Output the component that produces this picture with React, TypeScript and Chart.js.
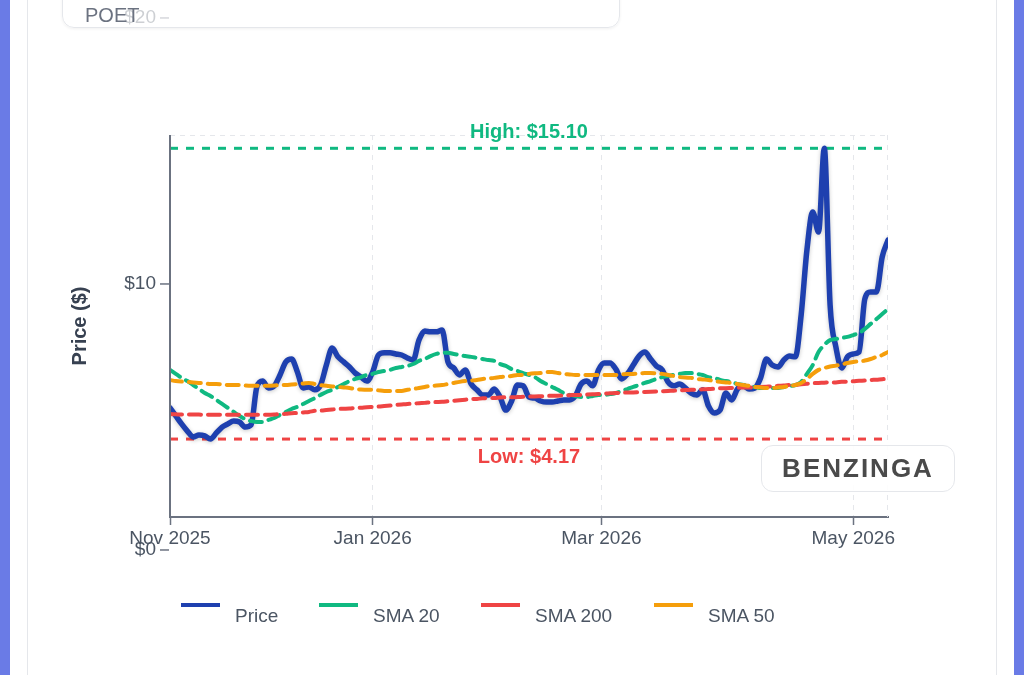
import { useEffect, useRef } from 'react';
import { Chart, registerables } from 'chart.js';

Chart.register(...registerables);

const FONT = "'Liberation Sans', Arial, Helvetica, sans-serif";

// Month ticks on the session axis (session index where each month starts)
const monthTickPositions = [0, 35, 74.5, 118];
const monthTickLabels = ['Nov 2025', 'Jan 2026', 'Mar 2026', 'May 2026'];

// Price axis ticks
const priceTickValues = [0, 10, 20];

// Daily closing price, one value per trading session
const price = [
  5.34, 5.04, 4.74, 4.47, 4.25, 4.32, 4.29, 4.17, 4.40, 4.62,
  4.74, 4.85, 4.81, 4.62, 4.70, 6.13, 6.35, 6.09, 6.17, 6.58,
  7.07, 7.18, 6.69, 6.09, 6.13, 6.02, 6.20, 6.95, 7.59, 7.26,
  7.07, 6.88, 6.65, 6.50, 6.35, 6.69, 7.33, 7.41, 7.41, 7.37,
  7.33, 7.22, 7.14, 7.89, 8.23, 8.20, 8.20, 8.27, 7.07, 6.84,
  6.58, 6.77, 6.24, 6.02, 5.83, 5.83, 6.05, 5.75, 5.26, 5.60,
  6.20, 6.17, 5.75, 5.71, 5.60, 5.56, 5.56, 5.60, 5.64, 5.64,
  5.79, 6.24, 6.35, 6.17, 6.77, 7.03, 7.03, 6.80, 6.43, 6.62,
  6.95, 7.29, 7.44, 7.18, 6.92, 6.77, 6.32, 6.17, 6.24, 6.09,
  5.90, 5.83, 6.02, 5.41, 5.15, 5.26, 5.90, 5.64, 6.05, 6.17,
  6.05, 6.09, 6.47, 7.18, 6.95, 6.88, 7.14, 7.29, 7.26, 8.83,
  11.28, 12.71, 11.95, 15.10, 9.21, 7.63, 6.84, 7.26, 7.37, 7.44,
  9.44, 9.70, 9.70, 11.02, 11.65,
];

const sma20 = [
  6.77, 6.62, 6.47, 6.35, 6.20, 6.05, 5.90, 5.79, 5.64, 5.49,
  5.34, 5.19, 5.04, 4.92, 4.85, 4.81, 4.81, 4.89, 4.96, 5.08,
  5.19, 5.30, 5.38, 5.49, 5.60, 5.71, 5.83, 5.94, 6.02, 6.13,
  6.24, 6.35, 6.43, 6.50, 6.58, 6.62, 6.69, 6.73, 6.77, 6.84,
  6.88, 6.92, 6.99, 7.11, 7.18, 7.29, 7.37, 7.41, 7.41, 7.37,
  7.33, 7.29, 7.26, 7.22, 7.18, 7.14, 7.11, 6.99, 6.92, 6.80,
  6.73, 6.65, 6.58, 6.50, 6.35, 6.24, 6.13, 6.02, 5.90, 5.83,
  5.79, 5.75, 5.75, 5.79, 5.83, 5.83, 5.86, 5.90, 5.98, 6.05,
  6.13, 6.20, 6.28, 6.35, 6.43, 6.50, 6.54, 6.58, 6.62, 6.65,
  6.65, 6.62, 6.58, 6.50, 6.47, 6.39, 6.35, 6.32, 6.24, 6.20,
  6.13, 6.13, 6.09, 6.09, 6.09, 6.09, 6.13, 6.17, 6.20, 6.32,
  6.62, 6.95, 7.44, 7.71, 7.89, 7.93, 7.97, 8.01, 8.08, 8.16,
  8.31, 8.50, 8.68, 8.87, 9.06,
];

const sma200 = [
  5.11, 5.10, 5.09, 5.09, 5.09, 5.09, 5.08, 5.08, 5.08, 5.08,
  5.08, 5.08, 5.08, 5.08, 5.08, 5.08, 5.08, 5.08, 5.09, 5.11,
  5.12, 5.14, 5.15, 5.17, 5.19, 5.23, 5.24, 5.26, 5.28, 5.30,
  5.31, 5.32, 5.34, 5.35, 5.37, 5.38, 5.39, 5.41, 5.43, 5.45,
  5.47, 5.49, 5.50, 5.52, 5.53, 5.55, 5.56, 5.57, 5.59, 5.61,
  5.63, 5.65, 5.67, 5.68, 5.70, 5.71, 5.71, 5.73, 5.74, 5.74,
  5.75, 5.76, 5.77, 5.77, 5.78, 5.79, 5.80, 5.80, 5.81, 5.82,
  5.83, 5.83, 5.84, 5.85, 5.86, 5.88, 5.89, 5.90, 5.91, 5.92,
  5.92, 5.93, 5.94, 5.95, 5.96, 5.97, 5.98, 5.99, 6.00, 6.01,
  6.02, 6.03, 6.04, 6.05, 6.06, 6.08, 6.08, 6.09, 6.10, 6.11,
  6.11, 6.12, 6.13, 6.14, 6.15, 6.17, 6.18, 6.20, 6.21, 6.23,
  6.25, 6.27, 6.28, 6.29, 6.30, 6.30, 6.32, 6.33, 6.34, 6.36,
  6.37, 6.39, 6.40, 6.42, 6.43,
];

const sma50 = [
  6.39, 6.35, 6.33, 6.32, 6.30, 6.28, 6.26, 6.24, 6.24, 6.22,
  6.20, 6.20, 6.20, 6.18, 6.17, 6.17, 6.17, 6.17, 6.18, 6.20,
  6.20, 6.22, 6.24, 6.26, 6.28, 6.24, 6.20, 6.17, 6.15, 6.13,
  6.11, 6.09, 6.05, 6.03, 6.02, 6.02, 6.00, 5.98, 5.98, 5.98,
  5.98, 6.02, 6.05, 6.09, 6.13, 6.17, 6.18, 6.20, 6.24, 6.28,
  6.32, 6.35, 6.37, 6.39, 6.43, 6.45, 6.47, 6.50, 6.52, 6.54,
  6.58, 6.58, 6.62, 6.64, 6.65, 6.69, 6.69, 6.65, 6.62, 6.60,
  6.58, 6.58, 6.58, 6.58, 6.58, 6.58, 6.58, 6.58, 6.60, 6.62,
  6.62, 6.64, 6.65, 6.65, 6.64, 6.62, 6.58, 6.54, 6.50, 6.48,
  6.47, 6.43, 6.41, 6.39, 6.35, 6.32, 6.30, 6.28, 6.24, 6.20,
  6.17, 6.13, 6.11, 6.09, 6.09, 6.11, 6.13, 6.17, 6.20, 6.28,
  6.43, 6.62, 6.77, 6.84, 6.90, 6.93, 6.97, 7.03, 7.07, 7.09,
  7.12, 7.18, 7.26, 7.33, 7.44,
];

const HIGH = Math.max(...price);
const LOW = Math.min(...price);

const COLORS = {
  price: '#1e40af',
  sma20: '#10b981',
  sma200: '#ef4444',
  sma50: '#f59e0b',
};

const legendItems = [
  { label: 'Price', color: COLORS.price, left: 181 },
  { label: 'SMA 20', color: COLORS.sma20, left: 319 },
  { label: 'SMA 200', color: COLORS.sma200, left: 481 },
  { label: 'SMA 50', color: COLORS.sma50, left: 654 },
];

const toPoints = (arr: number[]) => arr.map((v, i) => ({ x: i, y: v }));

const overlayPlugin = {
  id: 'priceOverlay',
  beforeDatasetsDraw(chart: any) {
    const { ctx, chartArea: a, scales } = chart;
    const y = scales.y;
    ctx.save();
    // dashed plot frame (top and right)
    ctx.strokeStyle = '#e5e7eb';
    ctx.lineWidth = 1;
    ctx.setLineDash([5, 5]);
    ctx.beginPath();
    ctx.moveTo(a.left, a.top + 0.5);
    ctx.lineTo(a.right, a.top + 0.5);
    ctx.moveTo(a.right - 0.5, a.top);
    ctx.lineTo(a.right - 0.5, a.bottom);
    ctx.stroke();

    // high / low reference lines
    const refs = [
      { value: HIGH, color: COLORS.sma20, text: `High: $${HIGH.toFixed(2)}`, dy: -10 },
      { value: LOW, color: COLORS.sma200, text: `Low: $${LOW.toFixed(2)}`, dy: 24 },
    ];
    const cx = (a.left + a.right) / 2;
    for (const r of refs) {
      const py = y.getPixelForValue(r.value);
      ctx.strokeStyle = r.color;
      ctx.lineWidth = 3;
      ctx.setLineDash([8, 8]);
      ctx.beginPath();
      ctx.moveTo(a.left, py);
      ctx.lineTo(a.right, py);
      ctx.stroke();
      ctx.setLineDash([]);
      ctx.fillStyle = r.color;
      ctx.font = `bold 20px ${FONT}`;
      ctx.textAlign = 'center';
      ctx.textBaseline = 'alphabetic';
      ctx.fillText(r.text, cx, py + r.dy);
    }
    ctx.restore();
  },
  beforeDatasetDraw(chart: any, args: any) {
    if (chart.data.datasets[args.index].label === 'Price') {
      const ctx = chart.ctx;
      ctx.save();
      ctx.shadowColor = 'rgba(0,0,0,0.22)';
      ctx.shadowBlur = 4;
      ctx.shadowOffsetY = 1;
    }
  },
  afterDatasetDraw(chart: any, args: any) {
    if (chart.data.datasets[args.index].label === 'Price') {
      chart.ctx.restore();
    }
  },
  afterDraw(chart: any) {
    const { ctx, chartArea: a, scales } = chart;
    const y = scales.y;
    ctx.save();
    // left axis line
    ctx.strokeStyle = '#6b7280';
    ctx.lineWidth = 2;
    ctx.beginPath();
    ctx.moveTo(a.left, a.top);
    ctx.lineTo(a.left, a.bottom + 1);
    ctx.stroke();

    // price ticks and labels
    ctx.font = `19px ${FONT}`;
    ctx.fillStyle = '#4b5563';
    ctx.textAlign = 'right';
    ctx.textBaseline = 'middle';
    ctx.lineWidth = 1.5;
    for (const v of priceTickValues) {
      const py = y.getPixelForValue(v);
      ctx.beginPath();
      ctx.moveTo(a.left - 10, py);
      ctx.lineTo(a.left - 1, py);
      ctx.stroke();
      ctx.fillText(`$${v}`, a.left - 14, py);
    }

    // axis title
    ctx.translate(80, (a.top + a.bottom) / 2);
    ctx.rotate(-Math.PI / 2);
    ctx.font = `bold 20px ${FONT}`;
    ctx.fillStyle = '#374151';
    ctx.textAlign = 'center';
    ctx.fillText('Price ($)', 0, 0);
    ctx.restore();
  },
};

export default function App() {
  const canvasRef = useRef<HTMLCanvasElement>(null);

  useEffect(() => {
    const canvas = canvasRef.current;
    if (!canvas) return;
    const dashed = { borderDash: [12, 7], borderWidth: 4 };
    const chart = new Chart(canvas, {
      type: 'line',
      data: {
        datasets: [
          {
            label: 'Price',
            data: toPoints(price),
            borderColor: COLORS.price,
            borderWidth: 5.5,
            order: 4,
          },
          { label: 'SMA 20', data: toPoints(sma20), borderColor: COLORS.sma20, order: 3, ...dashed },
          { label: 'SMA 200', data: toPoints(sma200), borderColor: COLORS.sma200, order: 2, ...dashed },
          { label: 'SMA 50', data: toPoints(sma50), borderColor: COLORS.sma50, order: 1, ...dashed },
        ],
      },
      options: {
        responsive: false,
        animation: false,
        devicePixelRatio: 1,
        layout: { padding: { left: 170, right: 136, top: 135, bottom: 0 } },
        elements: {
          point: { radius: 0, hoverRadius: 0 },
          line: { cubicInterpolationMode: 'monotone', borderCapStyle: 'round', borderJoinStyle: 'round', fill: false },
        },
        plugins: {
          legend: { display: false },
          tooltip: { enabled: false },
        },
        scales: {
          x: {
            type: 'linear',
            min: 0,
            max: price.length - 1,
            afterFit: (s: any) => {
              s.height = 158;
            },
            afterBuildTicks: (s: any) => {
              s.ticks = monthTickPositions.map((v) => ({ value: v }));
            },
            ticks: {
              autoSkip: false,
              maxRotation: 0,
              padding: 2,
              color: '#4b5563',
              font: { family: FONT, size: 19 },
              callback: (_v: any, i: number) => monthTickLabels[i],
            },
            grid: {
              color: '#e5e7eb',
              lineWidth: 1,
              drawTicks: true,
              tickLength: 8,
              tickColor: '#6b7280',
              tickWidth: 1.5,
            },
            border: { display: true, color: '#6b7280', width: 2, dash: [5, 5] },
          },
          y: {
            display: false,
            min: 1.24,
            max: 15.6,
          },
        },
      },
      plugins: [overlayPlugin],
    } as any);
    return () => chart.destroy();
  }, []);

  return (
    <div
      style={{
        position: 'fixed',
        left: 0,
        top: 0,
        width: 1024,
        height: 675,
        overflow: 'hidden',
        background: '#6a7be6',
        fontFamily: FONT,
      }}
    >
      <div style={{ position: 'absolute', left: 10, top: 0, width: 1004, height: 675, background: '#ffffff' }} />
      <div
        style={{
          position: 'absolute',
          left: 27,
          top: -20,
          width: 968,
          height: 720,
          border: '1px solid #e5e7eb',
          background: '#ffffff',
        }}
      />
      <canvas ref={canvasRef} width={1024} height={675} style={{ position: 'absolute', left: 0, top: 0 }} />
      <div
        style={{
          position: 'absolute',
          left: 62,
          top: -20,
          width: 556,
          height: 46,
          border: '1px solid #e5e7eb',
          borderRadius: 12,
          background: 'rgba(255,255,255,0.72)',
          boxShadow: '0 1px 3px rgba(0,0,0,0.06)',
        }}
      />
      <div
        style={{
          position: 'absolute',
          left: 85,
          top: 5,
          fontSize: 20,
          lineHeight: '20px',
          color: '#6b7280',
        }}
      >
        POET
      </div>
      <div
        style={{
          position: 'absolute',
          left: 761,
          top: 445,
          width: 192,
          height: 45,
          border: '1px solid #e5e7eb',
          borderRadius: 12,
          background: 'rgba(255,255,255,0.9)',
          display: 'flex',
          alignItems: 'center',
          justifyContent: 'center',
          fontWeight: 'bold',
          fontSize: 26,
          letterSpacing: 2,
          color: '#4a4a4a',
        }}
      >
        BENZINGA
      </div>
      {legendItems.map((it) => (
        <div key={it.label}>
          <div
            style={{
              position: 'absolute',
              left: it.left,
              top: 603,
              width: 39,
              height: 4,
              background: it.color,
            }}
          />
          <div
            style={{
              position: 'absolute',
              left: it.left + 54,
              top: 606,
              fontSize: 19,
              lineHeight: '20px',
              color: '#4b5563',
              whiteSpace: 'nowrap',
            }}
          >
            {it.label}
          </div>
        </div>
      ))}
    </div>
  );
}
